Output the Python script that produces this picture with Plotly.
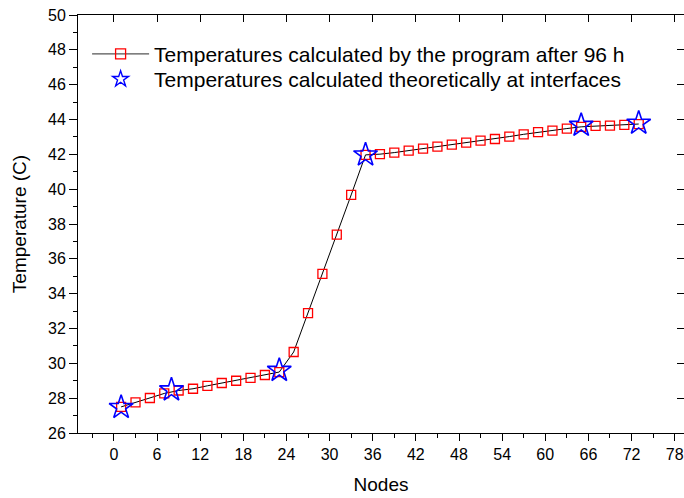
import plotly.graph_objects as go

# Data
nodes = list(range(1, 74, 2))
temps_program = [27.50, 27.76, 28.01, 28.27, 28.44, 28.54, 28.71, 28.87, 29.00, 29.17,
                 29.33, 29.50, 30.65, 32.88, 35.14, 37.39, 39.67, 41.97, 42.01, 42.10,
                 42.21, 42.33, 42.44, 42.56, 42.67, 42.79, 42.88, 43.02, 43.15, 43.27,
                 43.36, 43.48, 43.58, 43.63, 43.65, 43.69, 43.74]
interface_nodes = [1, 8, 23, 35, 65, 73]
temps_theory = [27.47, 28.48, 29.60, 41.97, 43.67, 43.79]

x_ticks = list(range(0, 79, 6))
y_ticks = list(range(26, 51, 2))

name_program = "Temperatures calculated by the program after 96 h"
name_theory = "Temperatures calculated theoretically at interfaces"

FONT = "Liberation Sans, Arial, sans-serif"

fig = go.Figure()
fig.add_trace(go.Scatter(
    x=nodes, y=temps_program, mode="lines+markers", showlegend=False,
    line=dict(color="black", width=1),
    marker=dict(symbol="square-open", size=9, color="red", line=dict(width=1.3, color="red")),
))
fig.add_trace(go.Scatter(
    x=interface_nodes, y=temps_theory, mode="markers", showlegend=False,
    marker=dict(symbol="star-open", size=18, color="blue", line=dict(width=1.6, color="blue")),
))
# legend-only entries (smaller symbols, as in the reference legend)
fig.add_trace(go.Scatter(
    x=[None], y=[None], mode="lines+markers", name=name_program, legend="legend",
    line=dict(color="#555555", width=1.2),
    marker=dict(symbol="square-open", size=10, color="red", line=dict(width=1.3, color="red")),
))
fig.add_trace(go.Scatter(
    x=[None], y=[None], mode="markers", name=name_theory, legend="legend2",
    marker=dict(symbol="star-open", size=12, color="blue", line=dict(width=1.4, color="blue")),
))
# invisible trace for mirrored axes
fig.add_trace(go.Scatter(x=[None], y=[None], xaxis="x2", yaxis="y2", showlegend=False, hoverinfo="skip"))

axis_common = dict(showgrid=False, zeroline=False, showline=True, linecolor="black",
                   linewidth=1, automargin=False, tickcolor="black")

legend_common = dict(x=0.015, xanchor="left", yanchor="top",
                     bgcolor="rgba(0,0,0,0)", font=dict(size=21, family=FONT),
                     itemwidth=57, tracegroupgap=0)

fig.update_layout(
    template="none",
    width=684, height=498,
    margin=dict(l=78, r=0, t=15, b=65),
    paper_bgcolor="white", plot_bgcolor="white",
    font=dict(family=FONT, color="black", size=16),
    xaxis=dict(**axis_common, range=[-5, 79.3], tickmode="array", tickvals=x_ticks,
               ticks="outside", ticklen=7, tickwidth=1, ticklabeloverflow="allow",
               minor=dict(dtick=3, tick0=0, ticks="outside", ticklen=4, tickcolor="black"),
               tickfont=dict(size=16, family=FONT),
               title=dict(text="Nodes", font=dict(size=19, family=FONT), standoff=15)),
    yaxis=dict(**axis_common, range=[26, 50], tickmode="array", tickvals=y_ticks,
               ticks="outside", ticklen=8, tickwidth=1, ticklabeloverflow="allow",
               minor=dict(dtick=1, tick0=0, ticks="outside", ticklen=4, tickcolor="black"),
               tickfont=dict(size=16, family=FONT),
               title=dict(text="Temperature (C)", font=dict(size=19, family=FONT), standoff=16)),
    xaxis2=dict(**axis_common, range=[-5, 79.3], overlaying="x", side="top", anchor="y",
                tickmode="array", tickvals=x_ticks, ticks="inside", ticklen=7,
                showticklabels=False),
    yaxis2=dict(**axis_common, range=[26, 50], overlaying="y", side="right", anchor="x",
                tickmode="array", tickvals=y_ticks, ticks="inside", ticklen=7,
                showticklabels=False),
    showlegend=True,
    legend=dict(**legend_common, y=0.955),
    legend2=dict(**legend_common, y=0.895),
)

fig.write_html("out.html")
